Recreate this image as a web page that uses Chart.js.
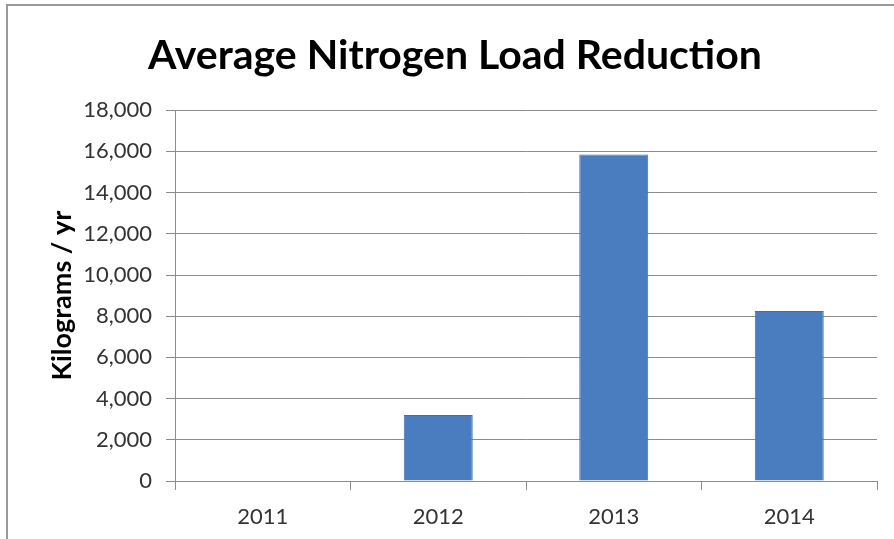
<!DOCTYPE html>
<html>
<head>
<meta charset="utf-8">
<script src="https://cdn.jsdelivr.net/npm/chart.js@4/dist/chart.umd.min.js"></script>
<style>
  html, body { margin: 0; padding: 0; background: #fff; }
  canvas { display: block; }
</style>
</head>
<body>
<canvas id="grafico" width="894" height="539"></canvas>
<script>
// data
var anos = ['2011', '2012', '2013', '2014'];
var reducao = [0, 3200, 15850, 8250];
var yTicks = [0, 2000, 4000, 6000, 8000, 10000, 12000, 14000, 16000, 18000];

var titulo = 'Average Nitrogen Load Reduction';
var tituloY = 'Kilograms / yr';

var cinza = '#8c8c8c';

// white background + frame on the left and top, like the original picture
var moldura = {
    id: 'moldura',
    beforeDraw: function (chart) {
        var ctx = chart.ctx;
        ctx.save();
        ctx.fillStyle = '#fff';
        ctx.fillRect(0, 0, chart.width, chart.height);
        ctx.strokeStyle = '#999';
        ctx.lineWidth = 2;
        ctx.beginPath();
        ctx.moveTo(7, chart.height);
        ctx.lineTo(7, 5);
        ctx.lineTo(chart.width, 5);
        ctx.stroke();
        ctx.restore();
    }
};

window.grafico = function (ctx) {
    var data = {
        labels: anos,
        datasets: [{
            label: tituloY,
            data: reducao,
            backgroundColor: '#4a7dbf',
            borderColor: '#416fae',
            borderWidth: 1,
            categoryPercentage: 1,
            barPercentage: 0.393
        }]
    };

    return new Chart(ctx, {
        type: 'bar',
        data: data,
        plugins: [moldura],
        options: {
            responsive: false,
            animation: false,
            layout: {
                // left padding a bit bigger so the title sits where it did in the original
                padding: { left: 33, right: 17, top: 0, bottom: 0 }
            },
            plugins: {
                legend: { display: false },
                tooltip: { enabled: false },
                title: {
                    display: true,
                    text: titulo,
                    color: '#000',
                    font: { family: 'Lato', weight: 'bold', size: 41 },
                    padding: { top: 31, bottom: 30 }
                }
            },
            scales: {
                x: {
                    afterFit: function (scale) {
                        scale.height = 58;
                    },
                    grid: {
                        drawOnChartArea: false,
                        color: cinza,
                        tickLength: 9
                    },
                    border: { color: cinza },
                    ticks: {
                        color: '#333',
                        font: { family: 'Lato', size: 22 },
                        padding: 14
                    }
                },
                y: {
                    min: 0,
                    max: 18000,
                    afterBuildTicks: function (scale) {
                        scale.ticks = yTicks.map(function (v) { return { value: v }; });
                    },
                    afterFit: function (scale) {
                        scale.width = 142;
                    },
                    grid: {
                        color: cinza,
                        tickLength: 9
                    },
                    border: { color: cinza },
                    ticks: {
                        color: '#333',
                        font: { family: 'Lato', size: 22 },
                        padding: 14,
                        callback: function (v) {
                            return Number(v).toLocaleString('en-US');
                        }
                    },
                    title: {
                        display: true,
                        text: tituloY,
                        color: '#000',
                        font: { family: 'Lato', weight: 'bold', size: 27 },
                        padding: { top: 13, bottom: 0 }
                    }
                }
            }
        }
    });
};

grafico(document.getElementById('grafico'));
</script>
</body>
</html>
